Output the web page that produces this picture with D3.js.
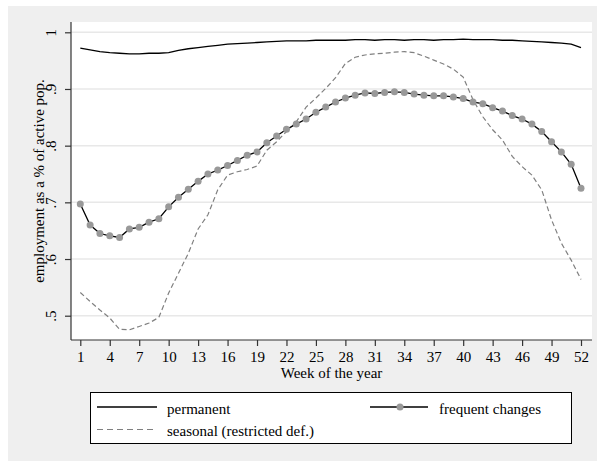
<!DOCTYPE html>
<html>
<head>
<meta charset="utf-8">
<script src="https://cdn.jsdelivr.net/npm/d3@7"></script>
<style>
  body { margin: 0; background: #fff; }
  svg text { font-family: "Liberation Serif", "Times New Roman", serif; fill: #000; }
</style>
</head>
<body>
<div id="chart"></div>
<script>
const weeks = d3.range(1, 53);
const xTicks = d3.range(1, 53, 3);
const yTicks = [0.5, 0.6, 0.7, 0.8, 0.9, 1];
const yTickLabels = [".5", ".6", ".7", ".8", ".9", "1"];

const permanent = [
  .972, .969, .966, .964, .963, .962, .962, .963, .963, .964,
  .968, .971, .973, .975, .977, .979, .980, .981, .982, .983,
  .984, .985, .985, .985, .986, .986, .986, .986, .987, .987,
  .986, .987, .987, .986, .987, .987, .986, .987, .987, .988,
  .987, .987, .987, .986, .986, .985, .984, .983, .982, .981,
  .979, .973
];

const frequent = [
  .697, .660, .645, .641, .638, .653, .656, .665, .671, .692,
  .709, .723, .737, .750, .757, .765, .774, .783, .789, .805,
  .817, .829, .838, .847, .859, .868, .877, .884, .889, .893,
  .892, .894, .895, .894, .891, .889, .888, .888, .886, .883,
  .877, .874, .867, .861, .853, .847, .838, .825, .807, .789,
  .767, .725
];

const seasonal = [
  .541, .525, .510, .496, .476, .475, .481, .487, .497, .540,
  .575, .610, .653, .678, .722, .748, .754, .758, .764, .792,
  .807, .825, .842, .868, .884, .901, .920, .945, .956, .960,
  .962, .963, .965, .966, .964, .958, .951, .944, .935, .921,
  .881, .851, .828, .810, .781, .763, .748, .722, .669, .628,
  .598, .564
];

const W = 597, H = 461;
const svg = d3.select("#chart").append("svg")
  .attr("width", W)
  .attr("height", H);

// graph region
svg.append("rect")
  .attr("x", 8).attr("y", 6)
  .attr("width", W - 8).attr("height", H - 6)
  .attr("fill", "#efefef");

// plot region
const plot = { left: 71, right: 592, top: 22, bottom: 340 };
svg.append("rect")
  .attr("x", plot.left).attr("y", plot.top)
  .attr("width", plot.right - plot.left).attr("height", plot.bottom - plot.top)
  .attr("fill", "#fff");

const x = d3.scaleLinear().domain([1, 52]).range([80.3, 581]);
const y = d3.scaleLinear().domain([0.5, 1]).range([315.7, 32.3]);

// gridlines
svg.selectAll(".grid")
  .data(yTicks)
  .join("line")
  .attr("x1", plot.left).attr("x2", plot.right)
  .attr("y1", d => y(d)).attr("y2", d => y(d))
  .attr("stroke", "#e8e8e8")
  .attr("stroke-width", 1.5);

// y axis
const yAxis = svg.append("g")
  .attr("transform", "translate(" + plot.left + ",0)")
  .call(d3.axisLeft(y).tickValues(yTicks).tickSize(6).tickPadding(0)
    .tickFormat((d, i) => yTickLabels[i]));
yAxis.select(".domain").attr("d", "M0," + plot.top + "V" + plot.bottom).attr("stroke", "#333");
yAxis.selectAll(".tick line").attr("stroke", "#333");
yAxis.selectAll(".tick text")
  .attr("x", 0).attr("y", 0).attr("dy", null)
  .attr("transform", "translate(-15,0) rotate(-90)")
  .attr("text-anchor", "middle")
  .style("font-size", "15px");

// x axis
const xAxis = svg.append("g")
  .attr("transform", "translate(0," + plot.bottom + ")")
  .call(d3.axisBottom(x).tickValues(xTicks).tickSize(6).tickPadding(0));
xAxis.select(".domain").attr("d", "M" + plot.left + ",0H" + plot.right).attr("stroke", "#333");
xAxis.selectAll(".tick line").attr("stroke", "#333");
xAxis.selectAll(".tick text")
  .attr("y", 21.5).attr("dy", null)
  .style("font-size", "15px");

svg.selectAll(".domain, .tick line").attr("stroke-width", 1.2);
svg.selectAll(".tick text").attr("fill", "#000").style("font-family", "Liberation Serif, serif");

// axis titles
svg.append("text")
  .attr("transform", "translate(44," + ((plot.top + plot.bottom) / 2) + ") rotate(-90)")
  .attr("text-anchor", "middle")
  .style("font-size", "15px")
  .text("employment as a % of active pop.");

svg.append("text")
  .attr("x", (plot.left + plot.right) / 2)
  .attr("y", 378)
  .attr("text-anchor", "middle")
  .style("font-size", "15px")
  .text("Week of the year");

// lines
const line = data => d3.line()
  .x((d, i) => x(weeks[i]))
  .y(d => y(d))(data);

svg.append("path")
  .attr("d", line(seasonal))
  .attr("fill", "none")
  .attr("stroke", "#808080")
  .attr("stroke-width", 1.2)
  .attr("stroke-dasharray", "5,3");

svg.append("path")
  .attr("d", line(permanent))
  .attr("fill", "none")
  .attr("stroke", "#000")
  .attr("stroke-width", 1.3);

svg.append("path")
  .attr("d", line(frequent))
  .attr("fill", "none")
  .attr("stroke", "#000")
  .attr("stroke-width", 1.3);

svg.selectAll(".dot")
  .data(frequent)
  .join("circle")
  .attr("cx", (d, i) => x(weeks[i]))
  .attr("cy", d => y(d))
  .attr("r", 3.5)
  .attr("fill", "#999");

// legend
const legend = svg.append("g");
legend.append("rect")
  .attr("x", 90.5).attr("y", 392.5)
  .attr("width", 481).attr("height", 51)
  .attr("fill", "#fff")
  .attr("stroke", "#000")
  .attr("stroke-width", 1);

legend.append("line")
  .attr("x1", 97).attr("x2", 157).attr("y1", 407).attr("y2", 407)
  .attr("stroke", "#000").attr("stroke-width", 1.3);
legend.append("text").attr("x", 167).attr("y", 414)
  .style("font-size", "15px").text("permanent");

legend.append("line")
  .attr("x1", 97).attr("x2", 157).attr("y1", 429.5).attr("y2", 429.5)
  .attr("stroke", "#808080").attr("stroke-width", 1.2)
  .attr("stroke-dasharray", "6,4");
legend.append("text").attr("x", 167).attr("y", 436)
  .style("font-size", "15px").text("seasonal (restricted def.)");

legend.append("line")
  .attr("x1", 370).attr("x2", 428).attr("y1", 407).attr("y2", 407)
  .attr("stroke", "#000").attr("stroke-width", 1.3);
legend.append("circle")
  .attr("cx", 400).attr("cy", 407).attr("r", 3.5).attr("fill", "#999");
legend.append("text").attr("x", 439).attr("y", 414)
  .style("font-size", "15px").text("frequent changes");
</script>
</body>
</html>
